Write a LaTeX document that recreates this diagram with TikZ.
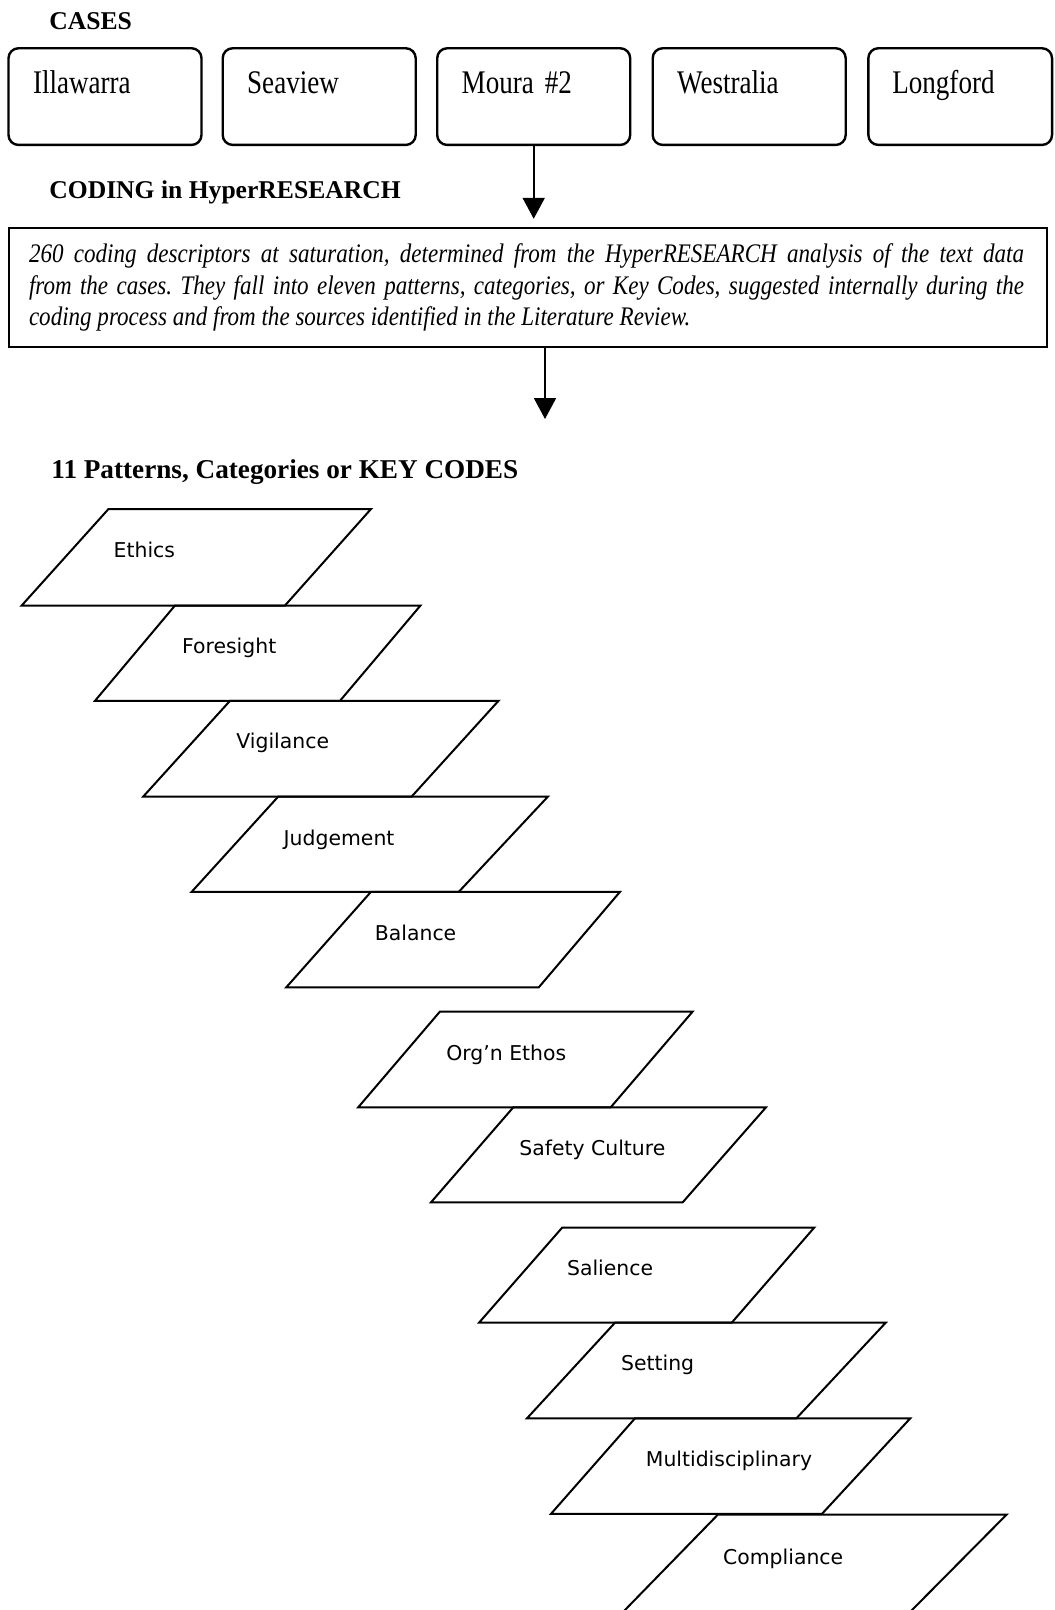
\documentclass[tikz,border=0pt]{standalone}
\usepackage{fontspec}
\setmainfont{Liberation Serif}
\newfontfamily\casefont{Liberation Serif}[FakeStretch=0.82]
\newfontfamily\notefont{Liberation Serif}[FakeStretch=0.86]
\newfontfamily\keyfont{DejaVu Sans}
\usetikzlibrary{arrows.meta}
\frenchspacing

\begin{document}
\begin{tikzpicture}[x=0.5pt,y=-0.5pt,
  caso/.style={draw,line width=1.2pt,rounded corners=5pt,minimum width=96.5pt,
    minimum height=48.35pt,inner xsep=12pt,inner ysep=0pt,text width=72pt,align=left,
    text height=22.5pt,text depth=25.85pt,font=\casefont\fontsize{16.5}{18}\selectfont},
  titulo/.style={anchor=base west,inner sep=0pt,font=\bfseries\fontsize{12.8}{15}\selectfont},
  codigo/.style={anchor=base west,inner sep=0pt,font=\keyfont\fontsize{10.2}{12}\selectfont},
  clave/.style={line width=1pt,line join=miter},
  flecha/.style={line width=1pt,-{Triangle[width=11pt,length=10.5pt]}}]
  \useasboundingbox (0,0) rectangle (1054,1610);
  % cases
  \node[titulo] (cases) at (49,30) {CASES};
  \node[caso] (illawarra) at (105,96.6) {Illawarra};
  \node[caso] (seaview) at (319.2,96.6) {Seaview};
  \node[caso] (moura) at (533.7,96.6) {Moura \#2};
  \node[caso] (westralia) at (749.2,96.6) {Westralia};
  \node[caso,minimum width=91.85pt,text width=67.85pt] (longford) at (960.2,96.6) {Longford};
  % coding
  \node[titulo] (coding) at (49,198.5) {CODING in HyperRESEARCH};
  \node[draw,line width=1.2pt,minimum width=518.8pt,minimum height=59.5pt,text width=496pt,
    inner xsep=10pt,align=justify,font=\notefont\itshape\fontsize{13.4}{15.6}\selectfont]
    (code) at (528,287.5) {\hspace*{-1.5pt}260 coding descriptors at saturation, determined from the
    HyperRESEARCH analysis of the text data\linebreak\hspace*{-1.5pt}from the cases. They fall into eleven
    patterns, categories, or Key Codes, suggested internally during the\linebreak\hspace*{-1.5pt}coding
    process and from the sources identified in the Literature Review.};
  \draw[flecha,shorten >=4pt] (moura.south) -- (moura.south |- code.north);
  \coordinate (patrones) at (545,419);
  \draw[flecha] (code.south -| patrones) -- (patrones);
  % key codes
  \node[titulo,font=\bfseries\fontsize{13.6}{16}\selectfont] (keyhead) at (51,478)
    {11 Patterns, Categories or KEY CODES};
  \draw[clave] (108.5,509) -- (371,509) -- (285,605.5) -- (21.7,605.5) -- cycle;
  \draw[clave] (175,605.5) -- (420.5,605.5) -- (340,700.8) -- (95,700.8) -- cycle;
  \draw[clave] (230,700.8) -- (498.5,700.8) -- (411.7,796.5) -- (143.3,796.5) -- cycle;
  \draw[clave] (278.3,796.5) -- (548,796.5) -- (458.8,891.8) -- (191.7,891.8) -- cycle;
  \draw[clave] (371,891.8) -- (620,891.8) -- (538.8,987.3) -- (286.3,987.3) -- cycle;
  \draw[clave] (440,1011.5) -- (692.7,1011.5) -- (610.7,1107.3) -- (358.2,1107.3) -- cycle;
  \draw[clave] (513.3,1107.3) -- (766,1107.3) -- (682.7,1202.3) -- (431,1202.3) -- cycle;
  \draw[clave] (562.3,1227.5) -- (814.3,1227.5) -- (731.7,1322.7) -- (479,1322.7) -- cycle;
  \draw[clave] (615,1322.7) -- (885.7,1322.7) -- (796.4,1418.3) -- (527,1418.3) -- cycle;
  \draw[clave] (635,1418.3) -- (910.3,1418.3) -- (822,1513.8) -- (551,1513.8) -- cycle;
  \draw[clave] (718,1514.5) -- (1006.7,1514.5) -- (910,1612) -- (623,1612) -- cycle;
  \node[codigo] (ethics) at (113.3,557.3) {Ethics};
  \node[codigo] (foresight) at (181.7,653.3) {Foresight};
  \node[codigo] (vigilance) at (236,748.3) {Vigilance};
  \node[codigo] (judgement) at (283.3,845.7) {Judgement};
  \node[codigo] (balance) at (374.5,940) {Balance};
  \node[codigo] (ethos) at (446,1060) {Org’n Ethos};
  \node[codigo] (safety) at (519,1155) {Safety Culture};
  \node[codigo] (salience) at (566.7,1275) {Salience};
  \node[codigo] (setting) at (620.7,1370.7) {Setting};
  \node[codigo] (multi) at (645.5,1466.5) {Multidisciplinary};
  \node[codigo] (compliance) at (722.7,1564) {Compliance};
\end{tikzpicture}
\end{document}
